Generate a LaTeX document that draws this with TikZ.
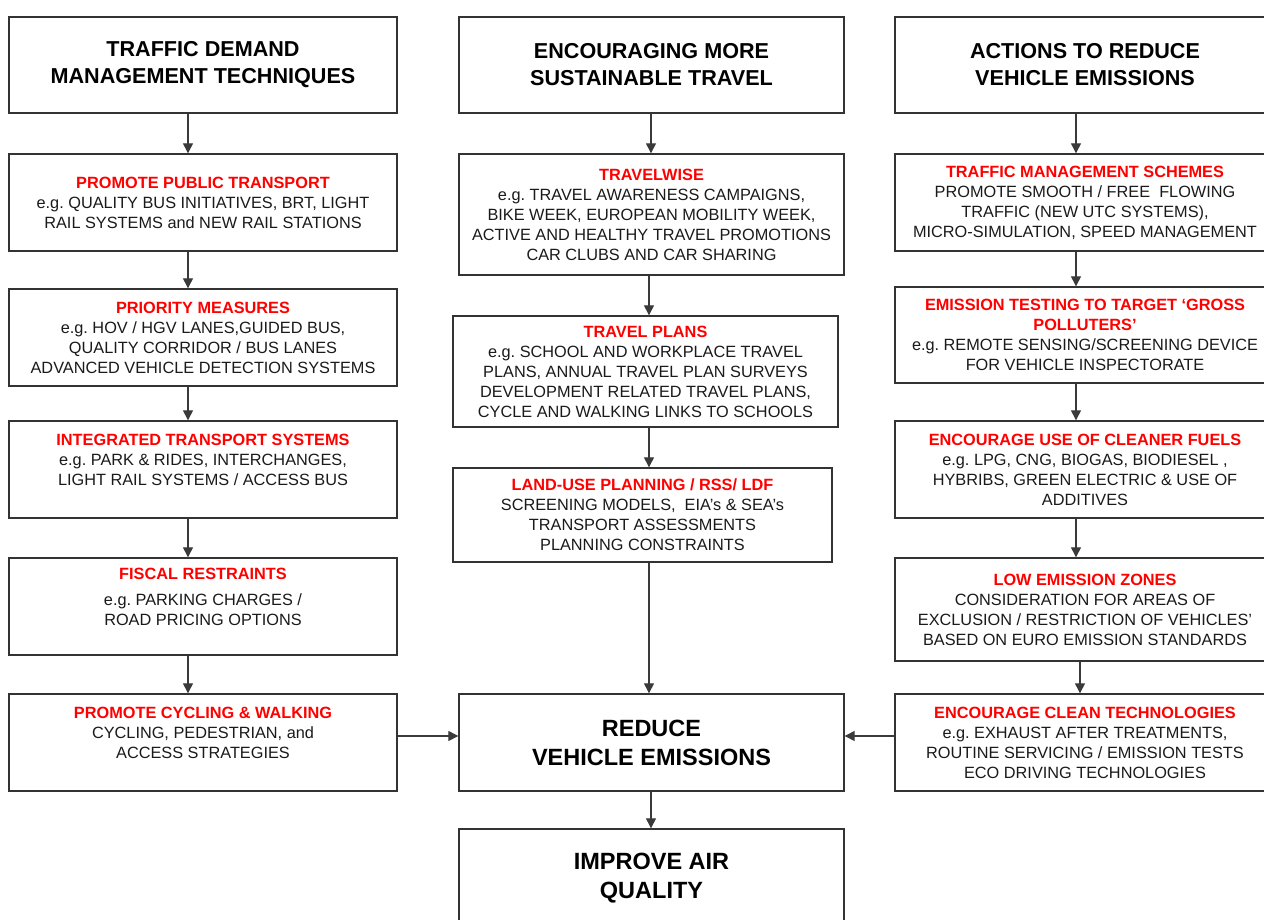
\documentclass[tikz,border=0pt]{standalone}
\usepackage{fontspec}
\setmainfont{Liberation Sans}
\usetikzlibrary{arrows.meta}
\frenchspacing
\definecolor{boxline}{HTML}{333333}
\definecolor{arrline}{HTML}{3A3A3A}
\definecolor{headred}{HTML}{FF0000}
\definecolor{bodytxt}{HTML}{1A1A1A}
\newcommand{\redhead}[1]{{\color{headred}\bfseries #1}}

\begin{document}
\begin{tikzpicture}[x=1pt,y=-1pt,
	box/.style={draw=boxline,line width=1.4pt,fill=white,inner sep=0pt,align=center,text=bodytxt,font=\fontsize{16.3}{20}\selectfont},
	topbox/.style={box,text=black,font=\bfseries\fontsize{21.6}{27}\selectfont},
	endbox/.style={box,text=black,font=\bfseries\fontsize{23.5}{29}\selectfont},
	arr/.style={draw=arrline,line width=1.3pt,-{Triangle[length=10pt,width=10pt]}}]
			\fill[white] (0,0) rectangle (1264,920);
			\useasboundingbox (0,0) rectangle (1264,920);
			
			% left column
			\node[topbox,minimum width=388pt,minimum height=96pt] (L0) at (203,65) {TRAFFIC DEMAND\\MANAGEMENT TECHNIQUES};
			\node[box,minimum width=388pt,minimum height=97pt] (L1) at (203,202.5) {\redhead{PROMOTE PUBLIC TRANSPORT}\\e.g. QUALITY BUS INITIATIVES, BRT, LIGHT\\RAIL SYSTEMS and NEW RAIL STATIONS};
			\node[box,minimum width=388pt,minimum height=97pt] (L2) at (203,337.5) {\redhead{PRIORITY MEASURES}\\e.g. HOV / HGV LANES,GUIDED BUS,\\QUALITY CORRIDOR / BUS LANES\\ADVANCED VEHICLE DETECTION SYSTEMS};
			\node[box,minimum width=388pt,minimum height=97pt] (L3) at (203,469.5) {\redhead{INTEGRATED TRANSPORT SYSTEMS}\\e.g. PARK \& RIDES, INTERCHANGES,\\LIGHT RAIL SYSTEMS / ACCESS BUS\\~};
			\node[box,minimum width=388pt,minimum height=97pt] (L4) at (203,606.5) {\redhead{FISCAL RESTRAINTS}\\[6pt]e.g. PARKING CHARGES /\\ROAD PRICING OPTIONS\\~};
			\node[box,minimum width=388pt,minimum height=97pt] (L5) at (203,742.5) {\redhead{PROMOTE CYCLING \& WALKING}\\CYCLING, PEDESTRIAN, and\\ACCESS STRATEGIES\\~};
			
			% middle column
			\node[topbox,minimum width=385pt,minimum height=96pt] (M0) at (651.5,65) {ENCOURAGING MORE\\SUSTAINABLE TRAVEL};
			\node[box,minimum width=385pt,minimum height=121pt] (M1) at (651.5,214.5) {\redhead{TRAVELWISE}\\e.g. TRAVEL AWARENESS CAMPAIGNS,\\BIKE WEEK, EUROPEAN MOBILITY WEEK,\\ACTIVE AND HEALTHY TRAVEL PROMOTIONS\\CAR CLUBS AND CAR SHARING};
			\node[box,minimum width=385pt,minimum height=111pt] (M2) at (645.5,371.5) {\redhead{TRAVEL PLANS}\\e.g. SCHOOL AND WORKPLACE TRAVEL\\PLANS, ANNUAL TRAVEL PLAN SURVEYS\\DEVELOPMENT RELATED TRAVEL PLANS,\\CYCLE AND WALKING LINKS TO SCHOOLS};
			\node[box,minimum width=379pt,minimum height=94pt] (M3) at (642.5,515) {\redhead{LAND-USE PLANNING / RSS/ LDF}\\SCREENING MODELS, \ EIA’s \& SEA’s\\TRANSPORT ASSESSMENTS\\PLANNING CONSTRAINTS};
			\node[endbox,minimum width=385pt,minimum height=97pt] (M4) at (651.5,742.5) {REDUCE\\VEHICLE EMISSIONS};
			\node[endbox,minimum width=385pt,minimum height=98pt] (M5) at (651.5,878) {IMPROVE AIR\\QUALITY};
			
			% right column
			\node[topbox,minimum width=380pt,minimum height=96pt] (R0) at (1085,65) {ACTIONS TO REDUCE\\VEHICLE EMISSIONS};
			\node[box,minimum width=380pt,minimum height=97pt] (R1) at (1085,202.5) {\redhead{TRAFFIC MANAGEMENT SCHEMES}\\PROMOTE SMOOTH / FREE \ FLOWING\\TRAFFIC (NEW UTC SYSTEMS),\\MICRO-SIMULATION, SPEED MANAGEMENT};
			\node[box,minimum width=380pt,minimum height=96pt] (R2) at (1085,335) {\redhead{EMISSION TESTING TO TARGET ‘GROSS}\\\redhead{POLLUTERS’}\\e.g. REMOTE SENSING/SCREENING DEVICE\\FOR VEHICLE INSPECTORATE};
			\node[box,minimum width=380pt,minimum height=97pt] (R3) at (1085,469.5) {\redhead{ENCOURAGE USE OF CLEANER FUELS}\\e.g. LPG, CNG, BIOGAS, BIODIESEL ,\\HYBRIBS, GREEN ELECTRIC \& USE OF\\ADDITIVES};
			\node[box,minimum width=380pt,minimum height=103pt] (R4) at (1085,609.5) {\redhead{LOW EMISSION ZONES}\\CONSIDERATION FOR AREAS OF\\EXCLUSION / RESTRICTION OF VEHICLES’\\BASED ON EURO EMISSION STANDARDS};
			\node[box,minimum width=380pt,minimum height=97pt] (R5) at (1085,742.5) {\redhead{ENCOURAGE CLEAN TECHNOLOGIES}\\e.g. EXHAUST AFTER TREATMENTS,\\ROUTINE SERVICING / EMISSION TESTS\\ECO DRIVING TECHNOLOGIES};
			
			% arrows
			\foreach \a/\b in {L0/L1,L1/L2,L2/L3,L3/L4,L4/L5}
			\draw[arr] ([xshift=-15pt]\a.south) -- ([xshift=-15pt]\b.north);
			\foreach \a/\b in {R0/R1,R1/R2,R2/R3,R3/R4}
			\draw[arr] ([xshift=-9pt]\a.south) -- ([xshift=-9pt]\b.north);
			\draw[arr] ([xshift=-5pt]R4.south) -- ([xshift=-5pt]R5.north);
			
			\draw[arr] ([xshift=-0.5pt]M0.south) -- ([xshift=-0.5pt]M1.north);
			\draw[arr] ([xshift=-2.5pt]M1.south) -- ([xshift=3.5pt]M2.north);
			\draw[arr] ([xshift=3.5pt]M2.south) -- ([xshift=6.5pt]M3.north);
			\draw[arr] ([xshift=6.5pt]M3.south) -- ([xshift=-2.5pt]M4.north);
			\draw[arr] ([xshift=-0.5pt]M4.south) -- ([xshift=-0.5pt]M5.north);
			
			\draw[arr] ([yshift=6.5pt]L5.east) -- ([yshift=6.5pt]M4.west);
			\draw[arr] ([yshift=6.5pt]R5.west) -- ([yshift=6.5pt]M4.east);
			\end{tikzpicture}
\end{document}
